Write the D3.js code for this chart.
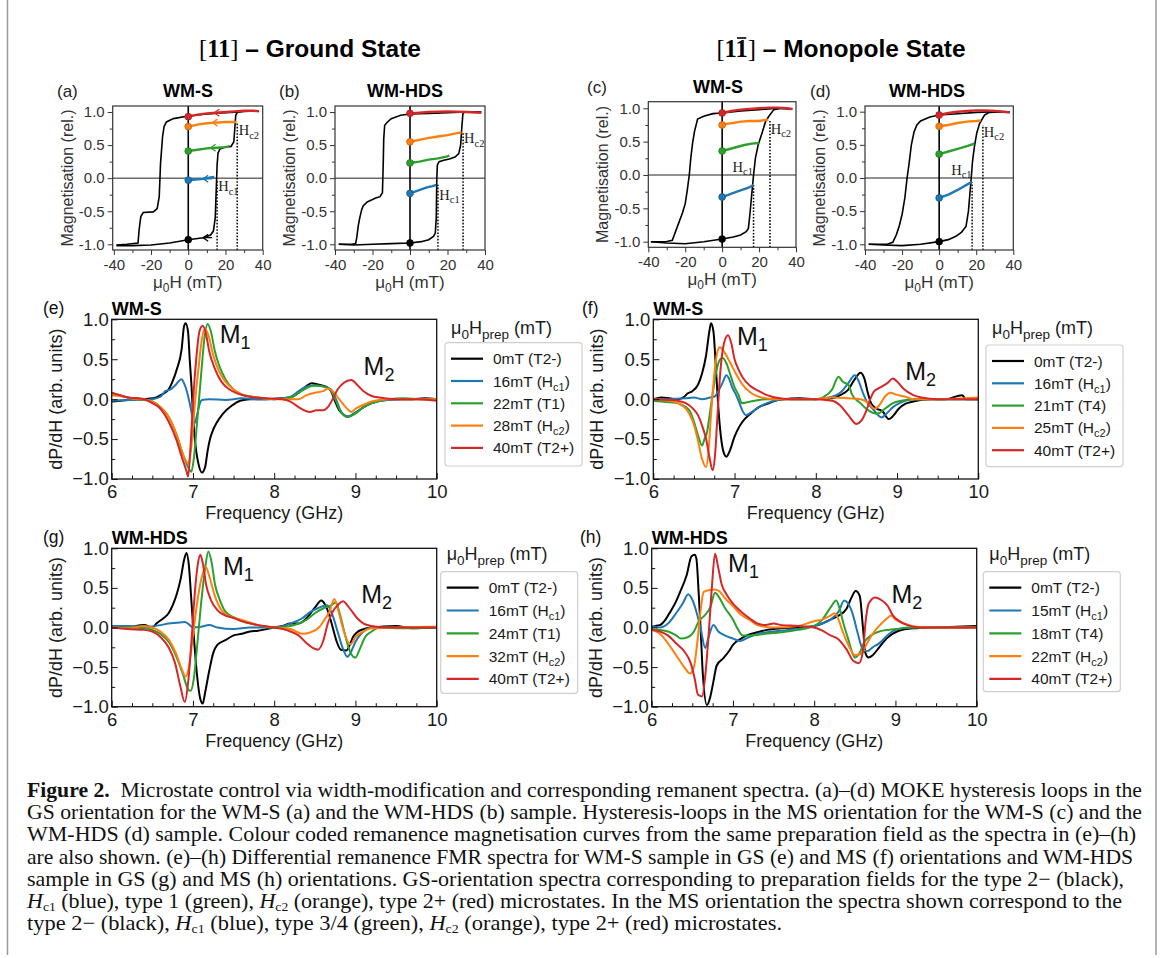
<!DOCTYPE html>
<html><head><meta charset="utf-8">
<script src="https://cdn.jsdelivr.net/npm/d3@7"></script>
<style>body{margin:0;background:#fff;} svg{display:block;}</style>
</head><body>
<script>
// ================= DATA =================
const hystTicksX = [-40,-20,0,20,40];
const hystMinorX = [-30,-10,10,30];
const hystTicksY = [-1.0,-0.5,0.0,0.5,1.0];
const hystMinorY = [-0.75,-0.25,0.25,0.75];
const fmrTicksX = [6,7,8,9,10];
const fmrTicksY = [-1.0,-0.5,0.0,0.5,1.0];
const seriesColors = ["#000000","#1f77b4","#2ca02c","#ff7f0e","#d62728"];

// ---- hysteresis (a) WM-S ground state
const hA_desc = [[38,1.02],[30,1.01],[27.8,1.0],[20,0.99],[10,0.97],[0,0.94],[-8,0.9],[-11.7,0.85],[-13,0.78],[-13.8,0.63],[-14.9,0.22],[-15.6,-0.28],[-16.7,-0.46],[-18.8,-0.51],[-24.2,-0.52],[-25.5,-0.58],[-26.4,-0.78],[-27,-0.98],[-33,-1.0],[-38.6,-1.01]];
const hA_asc = [[-38.6,-1.02],[-30,-1.02],[-20,-1.01],[-10,-0.98],[0,-0.93],[8,-0.9],[12,-0.86],[13.5,-0.8],[14.5,-0.6],[15,-0.2],[15.5,0.2],[16,0.38],[17,0.44],[20,0.47],[23,0.48],[24.5,0.55],[25,0.75],[25.5,0.95],[26.5,1.0],[30,1.02],[38,1.02]];
const hA_red = [[0,0.93],[5,0.96],[10,0.98],[15,0.99],[20,1.0],[25,1.01],[30,1.02],[35,1.02],[38,1.01]];
const hA_orange = [[0,0.78],[5,0.81],[10,0.83],[15,0.84],[20,0.85],[26,0.85]];
const hA_green = [[0,0.41],[5,0.43],[10,0.45],[15,0.46],[20,0.47],[22,0.48]];
const hA_blue = [[0,-0.03],[4,-0.02],[8,-0.01],[12,0.01],[14,0.02]];
const hA_arrows = [[8,-0.9],[8,-0.01],[12,0.46],[13,0.84],[14,0.99]];
const hA_hc = [15.5,-0.03,26.3,0.85];

// ---- hysteresis (b) WM-HDS ground state
const hB_desc = [[38,1.0],[30,1.0],[20,0.99],[10,0.98],[0,0.97],[-5,0.95],[-10,0.9],[-12,0.85],[-13.5,0.8],[-14,0.6],[-14.3,0.2],[-14.7,-0.22],[-16,-0.28],[-18.3,-0.3],[-22.8,-0.36],[-25,-0.42],[-25.8,-0.48],[-26.8,-0.6],[-27.6,-0.72],[-28.4,-0.9],[-29,-0.99],[-31,-1.0],[-38,-1.0]];
const hB_asc = [[-38,-1.0],[-30,-1.01],[-20,-1.0],[-10,-0.99],[0,-0.98],[6,-0.96],[10,-0.93],[12.5,-0.88],[13.5,-0.83],[14,-0.6],[14.3,0.0],[14.6,0.2],[15.5,0.25],[18,0.27],[21,0.29],[24,0.32],[26,0.37],[27,0.5],[27.6,0.75],[28.2,0.97],[29,1.0],[32,1.0],[38,1.0]];
const hB_red = [[0,0.98],[10,1.0],[20,1.01],[30,1.0],[38,0.99]];
const hB_orange = [[0,0.55],[5,0.58],[10,0.61],[15,0.63],[20,0.65],[25,0.68],[27.5,0.69]];
const hB_green = [[0,0.23],[5,0.25],[10,0.28],[15,0.3],[20,0.33],[21,0.34]];
const hB_blue = [[0,-0.23],[3,-0.2],[6,-0.17],[9,-0.14],[12,-0.12],[14,-0.1]];
const hB_hc = [14.9,-0.1,28.3,0.68];

// ---- hysteresis (c) WM-S monopole state
const hC_desc = [[38,0.99],[30,1.0],[20,0.98],[10,0.96],[0,0.93],[-5,0.92],[-10,0.88],[-13.3,0.84],[-15,0.65],[-16,0.48],[-17,0.25],[-17.8,0.0],[-19,-0.25],[-20,-0.43],[-21.5,-0.57],[-23,-0.68],[-25,-0.83],[-27,-0.98],[-30.5,-1.0],[-38.6,-1.0]];
const hC_asc = [[-38.6,-1.0],[-30,-1.02],[-20,-1.03],[-10,-1.0],[0,-0.96],[6,-0.93],[10,-0.9],[13,-0.85],[14.2,-0.8],[15,-0.6],[16,-0.3],[17,0.0],[18,0.25],[19.5,0.45],[21.6,0.63],[23.5,0.8],[25.3,0.88],[28,0.98],[32,1.0],[38,0.99]];
const hC_red = [[0,0.93],[5,0.96],[10,0.98],[15,0.99],[20,1.0],[25,1.01],[30,1.01],[35,1.0],[38,0.99]];
const hC_orange = [[0,0.75],[3,0.77],[6,0.78],[10,0.8],[15,0.81],[20,0.81],[25,0.83]];
const hC_green = [[0,0.36],[4,0.39],[8,0.42],[12,0.45],[16,0.47],[20,0.48]];
const hC_blue = [[0,-0.33],[4,-0.29],[8,-0.25],[12,-0.21],[15,-0.18],[17,-0.15]];
const hC_hc = [17,-0.15,25.9,0.83];

// ---- hysteresis (d) WM-HDS monopole state
const hD_desc = [[38,0.99],[30,1.0],[20,0.99],[10,0.97],[0,0.95],[-5,0.92],[-10,0.86],[-12,0.8],[-13.5,0.7],[-15,0.5],[-16.3,0.2],[-17.3,0.0],[-18.5,-0.3],[-20,-0.55],[-21.5,-0.72],[-23,-0.85],[-25,-0.97],[-28,-1.0],[-38,-1.0]];
const hD_asc = [[-38,-1.0],[-30,-1.01],[-20,-1.02],[-10,-1.0],[0,-0.96],[5,-0.93],[9,-0.88],[12,-0.82],[14.5,-0.73],[15.8,-0.5],[16.7,-0.2],[17.3,0.0],[18,0.25],[19,0.47],[20.3,0.68],[21.8,0.82],[24.5,0.95],[27,0.99],[38,1.0]];
const hD_red = [[0,0.95],[5,0.98],[10,1.0],[15,1.01],[20,1.02],[25,1.02],[30,1.01],[35,1.0],[38,0.99]];
const hD_orange = [[0,0.78],[5,0.8],[10,0.83],[15,0.85],[20,0.86],[22.5,0.87]];
const hD_green = [[0,0.36],[5,0.4],[10,0.44],[15,0.48],[19,0.52]];
const hD_blue = [[0,-0.3],[5,-0.25],[10,-0.18],[15,-0.1],[17.5,-0.06]];
const hD_hc = [17.8,-0.06,23.6,0.8];

// ---- FMR spectra (e) WM-S GS
const e_T2m = [[6.0,-0.03],[6.1,-0.02],[6.2,-0.01],[6.3,0.01],[6.4,0.0],[6.5,0.01],[6.55,0.02],[6.6,0.05],[6.64,0.07],[6.7,0.12],[6.74,0.2],[6.8,0.37],[6.86,0.62],[6.89,0.91],[6.91,0.95],[6.94,0.84],[6.96,0.5],[6.98,0.2],[7.01,-0.35],[7.04,-0.65],[7.07,-0.82],[7.11,-0.92],[7.15,-0.85],[7.18,-0.65],[7.21,-0.5],[7.25,-0.38],[7.29,-0.3],[7.37,-0.18],[7.48,-0.08],[7.58,-0.02],[7.7,0.0],[7.9,0.0],[8.1,0.01],[8.2,0.02],[8.3,0.08],[8.38,0.15],[8.46,0.2],[8.55,0.18],[8.65,0.15],[8.7,0.1],[8.75,-0.03],[8.8,-0.14],[8.86,-0.2],[8.91,-0.22],[9.0,-0.17],[9.1,-0.1],[9.2,-0.05],[9.3,-0.02],[9.5,0.0],[9.7,0.0],[9.85,0.01],[10.0,0.0]];
const e_Hc1 = [[6.0,-0.02],[6.2,-0.01],[6.4,-0.01],[6.5,0.0],[6.6,0.03],[6.66,0.1],[6.72,0.12],[6.78,0.17],[6.83,0.23],[6.86,0.25],[6.89,0.2],[6.93,0.08],[6.97,-0.1],[7.0,-0.25],[7.02,-0.3],[7.05,-0.2],[7.08,-0.07],[7.11,-0.01],[7.2,0.0],[7.4,-0.01],[7.6,0.01],[7.8,0.0],[8.0,0.0],[8.2,0.03],[8.3,0.1],[8.4,0.16],[8.5,0.17],[8.6,0.16],[8.7,0.12],[8.76,0.0],[8.82,-0.15],[8.9,-0.22],[9.0,-0.17],[9.1,-0.1],[9.2,-0.05],[9.4,-0.01],[9.6,0.0],[10.0,0.0]];
const e_T1 = [[6.0,0.08],[6.05,0.06],[6.1,0.05],[6.2,0.02],[6.3,0.0],[6.4,-0.01],[6.5,-0.03],[6.6,-0.1],[6.7,-0.22],[6.8,-0.45],[6.88,-0.7],[6.94,-0.85],[6.98,-0.91],[7.01,-0.75],[7.05,-0.3],[7.1,0.3],[7.14,0.75],[7.18,0.94],[7.22,0.85],[7.27,0.6],[7.33,0.4],[7.4,0.25],[7.5,0.12],[7.6,0.06],[7.8,0.02],[8.0,0.0],[8.2,0.02],[8.3,0.08],[8.4,0.14],[8.5,0.17],[8.6,0.16],[8.68,0.13],[8.75,0.0],[8.8,-0.12],[8.9,-0.22],[9.0,-0.18],[9.1,-0.1],[9.2,-0.05],[9.4,0.0],[9.6,0.01],[9.8,0.0],[10.0,0.0]];
const e_Hc2 = [[6.0,0.05],[6.1,0.04],[6.2,0.02],[6.3,0.0],[6.4,0.0],[6.5,-0.03],[6.6,-0.1],[6.7,-0.22],[6.8,-0.45],[6.88,-0.7],[6.94,-0.8],[6.98,-0.6],[7.02,-0.1],[7.07,0.4],[7.11,0.75],[7.15,0.88],[7.19,0.8],[7.25,0.55],[7.32,0.35],[7.4,0.22],[7.5,0.12],[7.6,0.06],[7.8,0.02],[8.0,0.0],[8.2,0.0],[8.3,0.0],[8.4,0.05],[8.5,0.08],[8.6,0.1],[8.66,0.13],[8.72,0.1],[8.8,0.0],[8.88,-0.1],[8.95,-0.16],[9.0,-0.12],[9.1,-0.07],[9.2,-0.03],[9.4,0.0],[10.0,0.0]];
const e_T2p = [[6.0,0.08],[6.1,0.05],[6.2,0.02],[6.3,0.01],[6.4,0.0],[6.5,-0.05],[6.6,-0.12],[6.7,-0.28],[6.8,-0.52],[6.87,-0.75],[6.92,-0.9],[6.94,-0.97],[6.97,-0.6],[7.0,-0.05],[7.04,0.5],[7.08,0.85],[7.12,0.92],[7.16,0.82],[7.2,0.6],[7.27,0.38],[7.35,0.22],[7.45,0.12],[7.55,0.07],[7.7,0.03],[7.9,0.01],[8.1,0.0],[8.2,-0.03],[8.3,-0.1],[8.44,-0.16],[8.52,-0.14],[8.6,-0.14],[8.66,-0.1],[8.72,0.0],[8.78,0.12],[8.85,0.2],[8.95,0.24],[9.02,0.18],[9.1,0.1],[9.2,0.04],[9.3,0.02],[9.5,0.0],[9.8,0.0],[10.0,-0.02]];
const e_legend = ["0mT (T2-)","16mT (H_{c1})","22mT (T1)","28mT (H_{c2})","40mT (T2+)"];

// ---- FMR spectra (f) WM-S MS
const f_T2m = [[6.0,0.0],[6.1,0.02],[6.2,0.01],[6.3,0.0],[6.38,0.03],[6.42,0.07],[6.48,0.1],[6.55,0.18],[6.6,0.32],[6.65,0.55],[6.69,0.85],[6.71,0.95],[6.74,0.85],[6.77,0.4],[6.8,-0.1],[6.83,-0.45],[6.87,-0.68],[6.9,-0.72],[6.94,-0.65],[7.0,-0.47],[7.05,-0.36],[7.1,-0.28],[7.2,-0.18],[7.3,-0.1],[7.4,-0.06],[7.5,-0.02],[7.6,0.0],[7.8,0.01],[8.0,0.0],[8.2,0.01],[8.3,0.05],[8.4,0.12],[8.48,0.25],[8.55,0.33],[8.6,0.25],[8.64,0.08],[8.68,-0.05],[8.75,-0.12],[8.82,-0.15],[8.9,-0.25],[8.96,-0.2],[9.02,-0.12],[9.1,-0.06],[9.2,-0.03],[9.4,0.0],[9.6,0.0],[9.8,0.05],[9.85,0.0],[10.0,0.0]];
const f_Hc1 = [[6.0,0.0],[6.2,0.0],[6.4,0.01],[6.5,0.02],[6.6,0.0],[6.7,0.02],[6.75,0.03],[6.8,0.1],[6.85,0.2],[6.9,0.3],[6.93,0.26],[6.97,0.15],[7.02,0.05],[7.06,-0.05],[7.1,-0.15],[7.14,-0.2],[7.2,-0.17],[7.3,-0.1],[7.4,-0.05],[7.6,0.0],[7.8,0.0],[8.0,0.0],[8.2,0.03],[8.3,0.08],[8.4,0.2],[8.48,0.3],[8.53,0.22],[8.58,0.08],[8.64,-0.05],[8.7,-0.12],[8.81,-0.23],[8.87,-0.18],[8.95,-0.1],[9.05,-0.04],[9.2,0.0],[9.5,0.0],[10.0,0.0]];
const f_T4 = [[6.0,-0.02],[6.1,-0.03],[6.2,-0.04],[6.3,-0.05],[6.4,-0.1],[6.45,-0.15],[6.5,-0.28],[6.55,-0.45],[6.6,-0.58],[6.63,-0.5],[6.66,-0.42],[6.7,-0.15],[6.75,0.2],[6.8,0.45],[6.85,0.52],[6.9,0.45],[6.95,0.3],[7.0,0.15],[7.05,0.05],[7.09,-0.05],[7.15,-0.04],[7.25,-0.02],[7.4,0.0],[7.6,0.0],[8.0,0.0],[8.1,0.03],[8.2,0.12],[8.28,0.28],[8.33,0.22],[8.4,0.18],[8.45,0.05],[8.55,-0.05],[8.62,-0.12],[8.7,-0.17],[8.76,-0.18],[8.85,-0.12],[8.95,-0.05],[9.05,-0.02],[9.2,0.0],[9.6,0.0],[10.0,0.0]];
const f_Hc2 = [[6.0,0.0],[6.1,-0.01],[6.2,-0.02],[6.3,-0.05],[6.4,-0.12],[6.45,-0.2],[6.5,-0.32],[6.55,-0.52],[6.6,-0.75],[6.65,-0.85],[6.68,-0.65],[6.71,-0.2],[6.75,0.3],[6.79,0.6],[6.82,0.65],[6.88,0.58],[6.95,0.45],[7.0,0.35],[7.1,0.18],[7.2,0.08],[7.3,0.03],[7.5,0.0],[7.8,0.0],[8.0,0.0],[8.2,0.02],[8.4,0.01],[8.55,0.0],[8.65,-0.05],[8.72,-0.12],[8.78,-0.08],[8.85,0.03],[8.92,0.08],[8.98,0.06],[9.1,0.03],[9.2,0.0],[9.5,0.0],[10.0,0.02]];
const f_T2p = [[6.0,0.0],[6.2,-0.01],[6.3,-0.02],[6.4,-0.05],[6.5,-0.13],[6.55,-0.2],[6.6,-0.33],[6.65,-0.5],[6.69,-0.72],[6.73,-0.89],[6.76,-0.7],[6.79,-0.2],[6.83,0.4],[6.87,0.7],[6.92,0.8],[6.96,0.7],[7.0,0.5],[7.05,0.37],[7.1,0.27],[7.2,0.16],[7.3,0.1],[7.4,0.05],[7.5,0.02],[7.7,0.0],[8.0,0.0],[8.2,-0.02],[8.3,-0.08],[8.4,-0.2],[8.5,-0.31],[8.56,-0.27],[8.62,-0.15],[8.67,0.0],[8.72,0.1],[8.8,0.15],[8.88,0.2],[8.95,0.26],[9.0,0.22],[9.08,0.13],[9.2,0.05],[9.3,0.02],[9.5,0.0],[10.0,0.0]];
const f_legend = ["0mT (T2-)","16mT (H_{c1})","21mT (T4)","25mT (H_{c2})","40mT (T2+)"];

// ---- FMR spectra (g) WM-HDS GS
const g_T2m = [[6.0,0.0],[6.1,0.02],[6.2,-0.01],[6.3,0.02],[6.4,0.03],[6.5,0.0],[6.55,0.05],[6.64,0.12],[6.7,0.18],[6.75,0.28],[6.8,0.42],[6.85,0.62],[6.89,0.85],[6.92,0.94],[6.95,0.78],[6.98,0.35],[7.01,-0.1],[7.05,-0.6],[7.09,-0.9],[7.12,-0.96],[7.15,-0.82],[7.2,-0.55],[7.25,-0.32],[7.3,-0.22],[7.4,-0.16],[7.5,-0.1],[7.6,-0.08],[7.7,-0.05],[7.8,-0.04],[8.0,0.0],[8.1,0.02],[8.2,0.05],[8.3,0.05],[8.4,0.12],[8.5,0.25],[8.58,0.34],[8.62,0.3],[8.67,0.18],[8.72,0.0],[8.77,-0.18],[8.82,-0.28],[8.89,-0.29],[8.93,-0.22],[8.97,-0.12],[9.02,-0.06],[9.1,-0.02],[9.2,0.0],[9.5,0.02],[9.7,-0.01],[10.0,0.0]];
const g_Hc1 = [[6.0,0.02],[6.2,0.02],[6.4,0.01],[6.6,0.03],[6.7,0.05],[6.8,0.06],[6.9,0.07],[6.95,0.04],[7.0,0.0],[7.1,0.01],[7.2,0.03],[7.3,0.0],[7.5,-0.02],[7.7,0.0],[8.0,0.0],[8.2,0.05],[8.35,0.12],[8.45,0.2],[8.55,0.25],[8.65,0.28],[8.72,0.15],[8.78,-0.05],[8.84,-0.25],[8.9,-0.37],[8.94,-0.32],[9.0,-0.18],[9.1,-0.05],[9.2,0.0],[9.5,0.0],[10.0,0.0]];
const g_T1 = [[6.0,0.0],[6.2,0.0],[6.4,-0.01],[6.5,-0.03],[6.6,-0.08],[6.7,-0.18],[6.8,-0.38],[6.88,-0.6],[6.94,-0.78],[6.97,-0.8],[7.01,-0.65],[7.05,-0.25],[7.1,0.3],[7.15,0.75],[7.19,0.96],[7.23,0.82],[7.27,0.55],[7.33,0.35],[7.4,0.2],[7.5,0.13],[7.6,0.08],[7.8,0.03],[8.0,0.0],[8.2,0.02],[8.3,0.05],[8.4,0.1],[8.5,0.18],[8.6,0.24],[8.7,0.28],[8.76,0.32],[8.8,0.2],[8.85,0.0],[8.9,-0.2],[8.95,-0.34],[9.0,-0.38],[9.05,-0.28],[9.12,-0.12],[9.2,-0.05],[9.3,0.0],[9.6,-0.01],[10.0,0.0]];
const g_Hc2 = [[6.0,0.0],[6.2,-0.01],[6.4,0.02],[6.5,0.0],[6.6,-0.05],[6.7,-0.15],[6.8,-0.35],[6.86,-0.52],[6.91,-0.62],[6.95,-0.5],[7.0,-0.1],[7.05,0.3],[7.1,0.6],[7.16,0.76],[7.2,0.65],[7.27,0.4],[7.35,0.22],[7.45,0.14],[7.55,0.11],[7.65,0.08],[7.8,0.03],[8.0,0.0],[8.2,-0.02],[8.35,-0.08],[8.45,-0.06],[8.55,0.0],[8.62,0.1],[8.68,0.2],[8.74,0.36],[8.78,0.25],[8.83,0.05],[8.88,-0.12],[8.94,-0.21],[9.0,-0.12],[9.1,-0.05],[9.2,-0.01],[9.5,0.0],[10.0,0.01]];
const g_T2p = [[6.0,0.0],[6.2,-0.02],[6.4,-0.03],[6.5,-0.05],[6.6,-0.12],[6.7,-0.25],[6.78,-0.45],[6.84,-0.72],[6.9,-0.94],[6.94,-0.7],[6.98,-0.2],[7.02,0.4],[7.06,0.8],[7.09,0.92],[7.12,0.82],[7.16,0.55],[7.22,0.35],[7.3,0.22],[7.4,0.15],[7.5,0.12],[7.6,0.08],[7.8,0.03],[8.0,0.0],[8.2,-0.05],[8.3,-0.1],[8.4,-0.2],[8.48,-0.26],[8.54,-0.28],[8.6,-0.18],[8.66,0.05],[8.72,0.2],[8.78,0.28],[8.85,0.33],[8.9,0.28],[8.96,0.2],[9.02,0.12],[9.1,0.05],[9.2,0.02],[9.4,0.0],[10.0,0.0]];
const g_legend = ["0mT (T2-)","16mT (H_{c1})","24mT (T1)","32mT (H_{c2})","40mT (T2+)"];

// ---- FMR spectra (h) WM-HDS MS
const h_T2m = [[6.0,0.0],[6.05,0.02],[6.1,0.03],[6.17,0.1],[6.23,0.2],[6.3,0.33],[6.35,0.45],[6.43,0.66],[6.49,0.9],[6.53,0.92],[6.55,0.87],[6.58,0.4],[6.6,0.03],[6.63,-0.6],[6.68,-0.98],[6.72,-0.88],[6.76,-0.68],[6.8,-0.48],[6.88,-0.39],[6.95,-0.3],[7.0,-0.22],[7.1,-0.14],[7.17,-0.1],[7.3,-0.06],[7.42,-0.03],[7.6,-0.01],[7.78,0.0],[8.0,0.02],[8.1,0.05],[8.2,0.1],[8.3,0.15],[8.4,0.24],[8.46,0.38],[8.51,0.46],[8.56,0.4],[8.6,0.0],[8.63,-0.32],[8.67,-0.38],[8.72,-0.35],[8.8,-0.25],[8.9,-0.13],[9.02,-0.05],[9.22,-0.01],[9.5,0.0],[10.0,0.02]];
const h_Hc1 = [[6.0,0.02],[6.1,0.0],[6.2,0.05],[6.3,0.18],[6.38,0.3],[6.45,0.42],[6.5,0.35],[6.55,0.2],[6.6,0.0],[6.66,-0.26],[6.7,-0.12],[6.76,0.03],[6.82,-0.05],[6.9,-0.1],[7.0,-0.14],[7.09,-0.17],[7.2,-0.12],[7.3,-0.08],[7.5,-0.05],[7.8,-0.02],[8.0,0.02],[8.1,0.05],[8.2,0.1],[8.3,0.2],[8.37,0.34],[8.42,0.3],[8.48,0.15],[8.53,-0.05],[8.6,-0.28],[8.65,-0.3],[8.72,-0.25],[8.8,-0.2],[8.9,-0.1],[9.0,-0.03],[9.2,0.0],[9.6,0.0],[10.0,0.0]];
const h_T4 = [[6.0,-0.03],[6.1,-0.03],[6.2,-0.05],[6.3,-0.1],[6.36,-0.14],[6.45,-0.12],[6.52,-0.05],[6.58,0.08],[6.65,0.15],[6.72,0.25],[6.78,0.44],[6.83,0.38],[6.9,0.25],[7.0,0.1],[7.06,-0.02],[7.12,-0.1],[7.2,-0.1],[7.4,-0.08],[7.6,-0.06],[7.8,-0.03],[8.0,0.02],[8.1,0.1],[8.2,0.25],[8.27,0.34],[8.31,0.25],[8.36,0.05],[8.42,-0.15],[8.47,-0.32],[8.5,-0.38],[8.56,-0.32],[8.62,-0.18],[8.7,-0.1],[8.8,-0.05],[9.0,-0.02],[9.2,0.0],[10.0,0.0]];
const h_Hc2 = [[6.0,-0.03],[6.1,-0.08],[6.2,-0.2],[6.3,-0.35],[6.4,-0.5],[6.47,-0.58],[6.52,-0.5],[6.56,-0.2],[6.6,0.2],[6.64,0.45],[6.7,0.47],[6.78,0.48],[6.84,0.45],[6.9,0.37],[7.0,0.27],[7.1,0.16],[7.2,0.1],[7.3,0.03],[7.5,0.0],[7.8,0.02],[8.0,0.08],[8.1,0.1],[8.2,0.15],[8.25,0.18],[8.3,0.1],[8.35,-0.05],[8.42,-0.22],[8.5,-0.35],[8.58,-0.33],[8.65,-0.2],[8.72,-0.08],[8.8,0.02],[8.88,0.1],[8.95,0.15],[9.0,0.1],[9.1,0.05],[9.2,0.02],[9.4,0.0],[10.0,0.0]];
const h_T2p = [[6.0,-0.03],[6.1,-0.05],[6.2,-0.1],[6.3,-0.2],[6.4,-0.3],[6.48,-0.45],[6.53,-0.65],[6.57,-0.85],[6.62,-0.87],[6.66,-0.6],[6.7,-0.1],[6.74,0.5],[6.78,0.93],[6.82,0.75],[6.86,0.55],[6.92,0.42],[7.0,0.3],[7.1,0.2],[7.2,0.12],[7.3,0.05],[7.4,0.03],[7.5,0.05],[7.6,0.03],[7.8,0.02],[8.0,0.0],[8.1,-0.04],[8.2,-0.1],[8.3,-0.15],[8.4,-0.28],[8.48,-0.42],[8.55,-0.45],[8.6,-0.3],[8.63,0.05],[8.67,0.3],[8.75,0.38],[8.82,0.35],[8.9,0.28],[8.97,0.15],[9.05,0.08],[9.15,0.03],[9.3,0.0],[10.0,0.0]];
const h_legend = ["0mT (T2-)","15mT (H_{c1})","18mT (T4)","22mT (H_{c2})","40mT (T2+)"];

const captionLines = [
  "**Figure 2.**  Microstate control via width-modification and corresponding remanent spectra. (a)–(d) MOKE hysteresis loops in the",
  "GS orientation for the WM-S (a) and the WM-HDS (b) sample. Hysteresis-loops in the MS orientation for the WM-S (c) and the",
  "WM-HDS (d) sample. Colour coded remanence magnetisation curves from the same preparation field as the spectra in (e)–(h)",
  "are also shown. (e)–(h) Differential remanence FMR spectra for WM-S sample in GS (e) and MS (f) orientations and WM-HDS",
  "sample in GS (g) and MS (h) orientations. GS-orientation spectra corresponding to preparation fields for the type 2− (black),",
  "*H*_{c1} (blue), type 1 (green), *H*_{c2} (orange), type 2+ (red) microstates. In the MS orientation the spectra shown correspond to the",
  "type 2− (black), *H*_{c1} (blue), type 3/4 (green), *H*_{c2} (orange), type 2+ (red) microstates."
];

// ================= DRAWING =================
const W = 1163, H = 958;
const SANS = "'Liberation Sans', Arial, Helvetica, sans-serif";
const SERIF = "'Liberation Serif', 'Times New Roman', serif";
const svg = d3.select("body").append("svg").attr("width", W).attr("height", H)
  .attr("font-family", SANS);

// rich text helper: **bold**, *italic*, _{sub}
function rich(textSel, str, subSize, subDy) {
  const parts = str.split(/(\*\*[^*]+\*\*|\*[^*]+\*|_\{[^}]+\})/g).filter(s => s.length);
  let shifted = false;
  parts.forEach(p => {
    const ts = textSel.append("tspan");
    let t = p, sub = false;
    if (p.startsWith("**")) { t = p.slice(2, -2); ts.attr("font-weight", "bold"); }
    else if (p.startsWith("_{")) { t = p.slice(2, -1); sub = true; }
    else if (p.startsWith("*")) { t = p.slice(1, -1); ts.attr("font-style", "italic"); }
    if (sub) { ts.attr("font-size", subSize); if (!shifted) { ts.attr("dy", subDy); shifted = true; } }
    else if (shifted) { ts.attr("dy", -subDy); shifted = false; }
    ts.text(t);
  });
  return textSel;
}

// frame lines
[7.5, 1156].forEach(xx => svg.append("line").attr("x1", xx).attr("x2", xx).attr("y1", 0).attr("y2", 955)
  .attr("stroke", "#9a9a9a").attr("stroke-width", 1.5));

// titles
function bigTitle(cx, by, tail, over) {
  const t = svg.append("text").attr("x", cx).attr("y", by).attr("text-anchor", "middle").attr("font-size", 24.5).attr("fill", "#000");
  t.append("tspan").attr("font-family", SERIF).text("[");
  t.append("tspan").attr("font-family", SERIF).attr("font-weight", "bold").text("11");
  t.append("tspan").attr("font-family", SERIF).text("]");
  t.append("tspan").attr("font-weight", "bold").text(" – " + tail);
  if (over) {
    const e = t.node().getExtentOfChar(2);
    svg.append("line").attr("x1", e.x + 1.5).attr("x2", e.x + e.width - 1.5)
      .attr("y1", by - 19).attr("y2", by - 19).attr("stroke", "#000").attr("stroke-width", 1.6);
  }
}
bigTitle(310, 57, "Ground State", false);
bigTitle(841, 57, "Monopole State", true);

// ---------- hysteresis panel ----------
function hyst(c) {
  const x = d3.scaleLinear(c.xDom, [c.box.x0, c.box.x1]);
  const y = d3.scaleLinear(c.yDom, [c.box.y1, c.box.y0]);
  const g = svg.append("g");
  const cid = "clip" + c.letter;
  svg.append("clipPath").attr("id", cid).append("rect")
    .attr("x", c.box.x0).attr("y", c.box.y0).attr("width", c.box.x1 - c.box.x0).attr("height", c.box.y1 - c.box.y0);
  const pg = g.append("g").attr("clip-path", `url(#${cid})`);
  const line = d3.line().x(d => x(d[0])).y(d => y(d[1]));
  pg.append("line").attr("x1", c.box.x0).attr("x2", c.box.x1).attr("y1", y(0)).attr("y2", y(0)).attr("stroke", "#222").attr("stroke-width", 1);
  pg.append("line").attr("x1", x(0)).attr("x2", x(0)).attr("y1", c.box.y0).attr("y2", c.box.y1).attr("stroke", "#000").attr("stroke-width", 1.6);
  pg.append("path").attr("d", line(c.desc)).attr("fill", "none").attr("stroke", "#000").attr("stroke-width", 1.6);
  pg.append("path").attr("d", line(c.asc)).attr("fill", "none").attr("stroke", "#000").attr("stroke-width", 1.6);
  [[c.hc[0], c.hc[1]], [c.hc[2], c.hc[3]]].forEach(([hx, lv]) => {
    pg.append("line").attr("x1", x(hx)).attr("x2", x(hx)).attr("y1", c.box.y1).attr("y2", y(lv))
      .attr("stroke", "#000").attr("stroke-width", 1.5).attr("stroke-dasharray", "1.6,1.6");
  });
  const cols = [c.blue, c.green, c.orange, c.red];
  cols.forEach((arr, i) => {
    pg.append("path").attr("d", line(arr)).attr("fill", "none").attr("stroke", seriesColors[i + 1]).attr("stroke-width", 2.4).attr("stroke-linejoin", "round");
  });
  if (c.arrows) {
    c.arrows.forEach((a, i) => {
      const px = x(a[0]), py = y(a[1]);
      g.append("path").attr("d", `M${px + 5},${py - 3.5}L${px},${py}L${px + 5},${py + 3.5}M${px},${py}L${px + 9},${py}`)
        .attr("fill", "none").attr("stroke", seriesColors[i]).attr("stroke-width", 1.3);
    });
  }
  const zeroBlack = c.asc.find(d => d[0] === 0);
  const dots = [zeroBlack, c.blue[0], c.green[0], c.orange[0], c.red[0]];
  dots.forEach((d, i) => {
    g.append("circle").attr("cx", x(d[0])).attr("cy", y(d[1])).attr("r", 3.4)
      .attr("fill", seriesColors[i]).attr("stroke", d3.color(seriesColors[i]).darker(0.8)).attr("stroke-width", 0.8);
  });
  c.hcLab.forEach((L, i) => {
    const t = g.append("text").attr("x", x(L[0])).attr("y", y(L[1])).attr("font-family", SERIF)
      .attr("font-size", 14.5).attr("fill", "#222").attr("text-anchor", L[2]);
    rich(t, i === 0 ? "H_{c1}" : "H_{c2}", 10.5, 3.5);
  });
  g.append("rect").attr("x", c.box.x0).attr("y", c.box.y0).attr("width", c.box.x1 - c.box.x0).attr("height", c.box.y1 - c.box.y0)
    .attr("fill", "none").attr("stroke", "#333").attr("stroke-width", 1.2);
  const fmt = d => d3.format(".1f")(d).replace("−", "-");
  const styleAx = s => { s.select(".domain").remove(); s.selectAll("line").attr("stroke", "#333"); s.selectAll("text").attr("font-size", 15).attr("fill", "#333").attr("font-family", SANS); };
  g.append("g").attr("transform", `translate(0,${c.box.y1})`).call(d3.axisBottom(x).tickValues(hystTicksX).tickSize(5).tickPadding(4).tickFormat(d => String(d))).call(styleAx);
  g.append("g").attr("transform", `translate(0,${c.box.y1})`).call(d3.axisBottom(x).tickValues(hystMinorX).tickSize(3).tickFormat("")).call(styleAx);
  g.append("g").attr("transform", `translate(${c.box.x0},0)`).call(d3.axisLeft(y).tickValues(hystTicksY).tickSize(5).tickPadding(3).tickFormat(fmt)).call(styleAx);
  g.append("g").attr("transform", `translate(${c.box.x0},0)`).call(d3.axisLeft(y).tickValues(hystMinorY).tickSize(3).tickFormat("")).call(styleAx);
  const cx = (c.box.x0 + c.box.x1) / 2, cy = (c.box.y0 + c.box.y1) / 2;
  rich(g.append("text").attr("x", cx).attr("y", c.box.y1 + 38).attr("text-anchor", "middle").attr("font-size", 17).attr("fill", "#333"), "μ_{0}H (mT)", 12, 4);
  g.append("text").attr("transform", `translate(${c.box.x0 - 40},${cy}) rotate(-90)`).attr("text-anchor", "middle")
    .attr("font-size", 16).attr("fill", "#333").text("Magnetisation (rel.)");
  g.append("text").attr("x", c.letterX).attr("y", c.box.y0 - 9).attr("font-size", 17).attr("fill", "#222").text("(" + c.letter + ")");
  g.append("text").attr("x", c.nameX).attr("y", c.box.y0 - 9).attr("text-anchor", "middle").attr("font-size", 18).attr("font-weight", "bold").attr("fill", "#000").text(c.name);
}

hyst({letter: "a", name: "WM-S", letterX: 57, nameX: 188, box: {x0: 112.7, x1: 262.7, y0: 106, y1: 250}, xDom: [-40.6, 40], yDom: [-1.086, 1.091],
  desc: hA_desc, asc: hA_asc, red: hA_red, orange: hA_orange, green: hA_green, blue: hA_blue, arrows: hA_arrows, hc: hA_hc,
  hcLab: [[hA_hc[0] + 0.6, -0.2, "start"], [hA_hc[2] + 0.8, 0.65, "start"]]});
hyst({letter: "b", name: "WM-HDS", letterX: 279, nameX: 405, box: {x0: 335, x1: 485, y0: 106, y1: 250}, xDom: [-40, 40], yDom: [-1.086, 1.091],
  desc: hB_desc, asc: hB_asc, red: hB_red, orange: hB_orange, green: hB_green, blue: hB_blue, hc: hB_hc,
  hcLab: [[hB_hc[0] + 0.7, -0.33, "start"], [hB_hc[2] + 0.5, 0.53, "start"]]});
hyst({letter: "c", name: "WM-S", letterX: 587, nameX: 718, box: {x0: 648.3, x1: 796, y0: 101.7, y1: 247.3}, xDom: [-40, 40], yDom: [-1.084, 1.099],
  desc: hC_desc, asc: hC_asc, red: hC_red, orange: hC_orange, green: hC_green, blue: hC_blue, hc: hC_hc,
  hcLab: [[hC_hc[0] - 0.3, 0.05, "end"], [hC_hc[2] + 0.4, 0.62, "start"]]});
hyst({letter: "d", name: "WM-HDS", letterX: 810, nameX: 927, box: {x0: 865, x1: 1013.3, y0: 106, y1: 250}, xDom: [-40, 40], yDom: [-1.086, 1.086],
  desc: hD_desc, asc: hD_asc, red: hD_red, orange: hD_orange, green: hD_green, blue: hD_blue, hc: hD_hc,
  hcLab: [[hD_hc[0] - 0.3, 0.05, "end"], [hD_hc[2] + 0.5, 0.62, "start"]]});

// ---------- FMR panel ----------
function fmr(c) {
  const x = d3.scaleLinear([6, 10], [c.box.x0, c.box.x1]);
  const y = d3.scaleLinear([-1, 1], [c.box.y1, c.box.y0]);
  const g = svg.append("g");
  const cid = "clip" + c.letter;
  svg.append("clipPath").attr("id", cid).append("rect")
    .attr("x", c.box.x0).attr("y", c.box.y0).attr("width", c.box.x1 - c.box.x0).attr("height", c.box.y1 - c.box.y0);
  const line = d3.line().x(d => x(d[0])).y(d => y(d[1])).curve(d3.curveMonotoneX);
  c.series.forEach((s, i) => g.append("path").attr("d", line(s)).attr("fill", "none")
    .attr("stroke", seriesColors[i]).attr("stroke-width", 2).attr("stroke-linejoin", "round").attr("clip-path", `url(#${cid})`));
  g.append("rect").attr("x", c.box.x0).attr("y", c.box.y0).attr("width", c.box.x1 - c.box.x0).attr("height", c.box.y1 - c.box.y0)
    .attr("fill", "none").attr("stroke", "#111").attr("stroke-width", 1.3);
  const styleAx = s => { s.select(".domain").remove(); s.selectAll("line").attr("stroke", "#111").attr("stroke-width", 1); s.selectAll("text").attr("font-size", 18.5).attr("fill", "#1a1a1a").attr("font-family", SANS); };
  const minorX = d3.range(6, 10.001, 0.25).filter(v => Math.abs(v - Math.round(v)) > 1e-6);
  const minorY = d3.range(-1, 1.001, 0.25).filter(v => Math.abs(v * 2 - Math.round(v * 2)) > 1e-6);
  g.append("g").attr("transform", `translate(0,${c.box.y1})`).call(d3.axisBottom(x).tickValues(fmrTicksX).tickSize(-6).tickPadding(6).tickFormat(d3.format("d"))).call(styleAx);
  g.append("g").attr("transform", `translate(0,${c.box.y1})`).call(d3.axisBottom(x).tickValues(minorX).tickSize(-3.5).tickFormat("")).call(styleAx);
  g.append("g").attr("transform", `translate(${c.box.x0},0)`).call(d3.axisLeft(y).tickValues(fmrTicksY).tickSize(-6).tickPadding(3).tickFormat(d3.format(".1f"))).call(styleAx);
  g.append("g").attr("transform", `translate(${c.box.x0},0)`).call(d3.axisLeft(y).tickValues(minorY).tickSize(-3.5).tickFormat("")).call(styleAx);
  const cx = (c.box.x0 + c.box.x1) / 2, cy = (c.box.y0 + c.box.y1) / 2;
  g.append("text").attr("x", cx).attr("y", c.box.y1 + 40).attr("text-anchor", "middle").attr("font-size", 18).attr("fill", "#1a1a1a").text("Frequency (GHz)");
  g.append("text").attr("transform", `translate(${c.box.x0 - 50},${cy}) rotate(-90)`).attr("text-anchor", "middle")
    .attr("font-size", 18).attr("fill", "#1a1a1a").text("dP/dH (arb. units)");
  g.append("text").attr("x", c.letterX).attr("y", c.box.y0 - 5).attr("font-size", 17.5).attr("fill", "#111").text("(" + c.letter + ")");
  g.append("text").attr("x", c.box.x0).attr("y", c.box.y0 - 4).attr("font-size", 18).attr("font-weight", "bold").attr("fill", "#000").text(c.name);
  rich(g.append("text").attr("x", x(c.m1[0])).attr("y", y(c.m1[1])).attr("font-size", 25).attr("fill", "#111"), "M_{1}", 18, 6);
  rich(g.append("text").attr("x", x(c.m2[0])).attr("y", y(c.m2[1])).attr("font-size", 25).attr("fill", "#111"), "M_{2}", 18, 6);
  const L = c.leg;
  rich(g.append("text").attr("x", L.x + 6).attr("y", L.titleY).attr("font-size", 18).attr("fill", "#1a1a1a"), "μ_{0}H_{prep} (mT)", 13.5, 5);
  g.append("rect").attr("x", L.x).attr("y", L.y).attr("width", 137).attr("height", L.h).attr("rx", 3)
    .attr("fill", "#fff").attr("fill-opacity", 0.85).attr("stroke", "#cfcfcf").attr("stroke-width", 1.2);
  c.legend.forEach((lab, i) => {
    const ry = L.y + 16 + i * L.dy;
    g.append("line").attr("x1", L.x + 6).attr("x2", L.x + 38).attr("y1", ry).attr("y2", ry).attr("stroke", seriesColors[i]).attr("stroke-width", 2.2);
    rich(g.append("text").attr("x", L.x + 48).attr("y", ry + 5.5).attr("font-size", 15.5).attr("fill", "#1a1a1a"), lab, 11, 4);
  });
}

fmr({letter: "e", name: "WM-S", letterX: 43, box: {x0: 111.7, x1: 436.7, y0: 319.3, y1: 479},
  series: [e_T2m, e_Hc1, e_T1, e_Hc2, e_T2p], legend: e_legend, m1: [7.33, 0.70], m2: [9.1, 0.30],
  leg: {x: 445, y: 342.7, h: 123.3, dy: 22.3, titleY: 334}});
fmr({letter: "f", name: "WM-S", letterX: 582, box: {x0: 653.3, x1: 978.3, y0: 319.3, y1: 479},
  series: [f_T2m, f_Hc1, f_T4, f_Hc2, f_T2p], legend: f_legend, m1: [7.03, 0.68], m2: [9.1, 0.24],
  leg: {x: 986, y: 345, h: 121.7, dy: 22.3, titleY: 334}});
fmr({letter: "g", name: "WM-HDS", letterX: 43, box: {x0: 111.7, x1: 436.7, y0: 548.3, y1: 706.7},
  series: [g_T2m, g_Hc1, g_T1, g_Hc2, g_T2p], legend: g_legend, m1: [7.37, 0.66], m2: [9.07, 0.31],
  leg: {x: 440.7, y: 571.7, h: 121.6, dy: 22.8, titleY: 560}});
fmr({letter: "h", name: "WM-HDS", letterX: 580, box: {x0: 651.7, x1: 976.7, y0: 548.3, y1: 706.7},
  series: [h_T2m, h_Hc1, h_T4, h_Hc2, h_T2p], legend: h_legend, m1: [6.94, 0.70], m2: [8.95, 0.31],
  leg: {x: 983.3, y: 571.7, h: 120, dy: 22.8, titleY: 560}});

// ---------- caption ----------
const capWidths = [1115, 1115, 1109, 1106, 1097, 1095, 755];
captionLines.forEach((ln, i) => {
  const t = svg.append("text").attr("x", 27).attr("y", 797 + i * 22.2).attr("font-family", SERIF)
    .attr("font-size", 21).attr("fill", "#111").style("white-space", "pre")
    .attr("textLength", capWidths[i]).attr("lengthAdjust", "spacingAndGlyphs");
  rich(t, ln, 13, 2.5);
});
</script>
</body></html>
